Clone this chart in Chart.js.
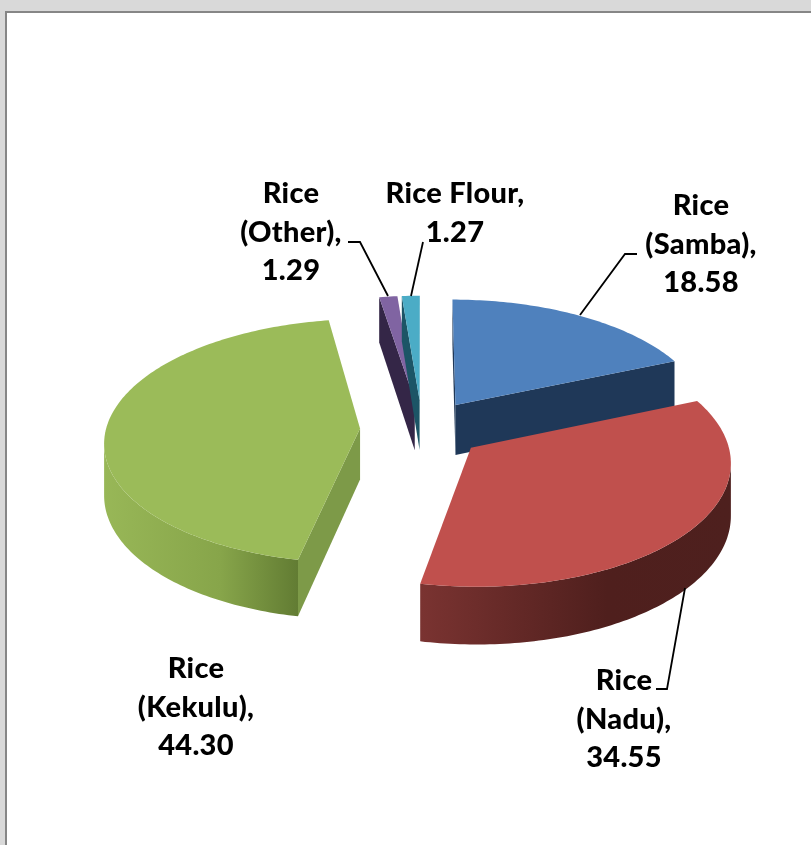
<!DOCTYPE html>
<html>
<head>
<meta charset="utf-8">
<script src="https://cdn.jsdelivr.net/npm/chart.js@4"></script>
<style>
html,body{margin:0;padding:0;background:#d9d9d9;width:811px;height:845px;overflow:hidden}
#sheet{position:absolute;left:5px;top:11px;width:806px;height:834px;background:#fff;border-left:2px solid #868686;border-top:2px solid #868686;box-sizing:border-box}
canvas{position:absolute;left:0;top:0}
</style>
</head>
<body>
<div id="sheet"></div>
<canvas id="c" width="811" height="845"></canvas>
<script>
const categories = ['Rice (Samba)', 'Rice (Nadu)', 'Rice (Kekulu)', 'Rice (Other)', 'Rice Flour'];
const values = [18.58, 34.55, 44.30, 1.29, 1.27];
const topColors = ['#4F81BD', '#C0504D', '#9BBB59', '#8064A2', '#4BACC6'];
const wallColors = ['#1F3858', '#4F1F1D', '#7D9A48', '#342647', '#1C5566'];
const rimLeft = ['#1F3858', '#7A3331', '#98B757', '#342647', '#1C5566'];
const rimMid = ['#1F3858', '#4F1F1D', '#87A54A', '#342647', '#1C5566'];
const rimRight = ['#1F3858', '#4E201E', '#627C33', '#342647', '#1C5566'];
const drawOrder = [3, 4, 0, 2, 1];
const labelLines = [['Rice', '(Samba),'], ['Rice', '(Nadu),'], ['Rice', '(Kekulu),'], ['Rice', '(Other),'], ['Rice Flour,']];
const labelAnchors = [[701, 206], [624, 681], [196, 669], [291, 194], [455, 194]];
const leaderPaths = [
  [[580, 315], [625, 254], [637, 254]],
  [[685, 588], [667, 689], [656, 689]],
  null,
  [[388, 296], [360, 242], [348, 242]],
  [[411, 296], [423, 242]]
];

const TILT = 0.475, PERSP = 0.0004, DEPTH = 51, EXPLODE = 62;
const LINE_H = 38.5;

function project(cx, cy, px, pv, z) {
  const s = 1 / (1 - pv * PERSP);
  return [cx + px * s, cy + pv * TILT * s + z * s];
}
function poly(ctx, pts, color) {
  ctx.beginPath();
  pts.forEach((p, i) => i ? ctx.lineTo(p[0], p[1]) : ctx.moveTo(p[0], p[1]));
  ctx.closePath();
  ctx.fillStyle = color;
  ctx.fill();
}
function signedArea(pts) {
  let a = 0;
  pts.forEach((p, i) => { const q = pts[(i + 1) % pts.length]; a += p[0] * q[1] - q[0] * p[1]; });
  return a;
}
function drawSlice(ctx, arc, i) {
  const { x, y, startAngle, endAngle, outerRadius } = arc.getProps(['x', 'y', 'startAngle', 'endAngle', 'outerRadius'], true);
  const mid = (startAngle + endAngle) / 2;
  const off = arc.options.offset;
  const ox = off * Math.cos(mid), ov = off * Math.sin(mid);
  const P = (a, r, z) => project(x, y, ox + r * Math.cos(a), ov + r * Math.sin(a), z);
  const n = Math.max(4, Math.ceil((endAngle - startAngle) / (Math.PI / 180)));
  const angles = [];
  for (let k = 0; k <= n; k++) angles.push(startAngle + (endAngle - startAngle) * k / n);

  const wall = a => [P(a, 0, 0), P(a, outerRadius, 0), P(a, outerRadius, DEPTH), P(a, 0, DEPTH)];
  const sw = wall(startAngle), ew = wall(endAngle);
  if (signedArea(sw) < 0) poly(ctx, sw, wallColors[i]);
  if (signedArea(ew) > 0) poly(ctx, ew, wallColors[i]);

  const upper = [], lower = [];
  for (let k = 0; k < n; k++) {
    const q = [P(angles[k], outerRadius, 0), P(angles[k + 1], outerRadius, 0), P(angles[k + 1], outerRadius, DEPTH), P(angles[k], outerRadius, DEPTH)];
    if (signedArea(q) < 0) {
      if (!upper.length) { upper.push(q[0]); lower.push(q[3]); }
      upper.push(q[1]); lower.push(q[2]);
    }
  }
  if (upper.length) {
    const rim = upper.concat(lower.reverse());
    const xs = rim.map(p => p[0]);
    const g = ctx.createLinearGradient(Math.min(...xs), 0, Math.max(...xs), 0);
    g.addColorStop(0, rimLeft[i]);
    g.addColorStop(0.6, rimMid[i]);
    g.addColorStop(1, rimRight[i]);
    poly(ctx, rim, g);
  }
  const top = [P(startAngle, 0, 0)].concat(angles.map(a => P(a, outerRadius, 0)));
  poly(ctx, top, arc.options.backgroundColor);
}

const pie3d = {
  id: 'pie3d',
  beforeDatasetDraw(chart, args) {
    const ctx = chart.ctx, arcs = chart.getDatasetMeta(args.index).data;
    ctx.save();
    drawOrder.forEach(i => drawSlice(ctx, arcs[i], i));
    ctx.restore();
    return false;
  },
  afterDraw(chart) {
    const ctx = chart.ctx;
    ctx.save();
    ctx.strokeStyle = '#000';
    ctx.lineWidth = 1.8;
    leaderPaths.forEach(path => {
      if (!path) return;
      ctx.beginPath();
      path.forEach((p, k) => k ? ctx.lineTo(p[0], p[1]) : ctx.moveTo(p[0], p[1]));
      ctx.stroke();
    });
    ctx.fillStyle = '#000';
    ctx.font = '900 29px Lato, "Noto Sans", sans-serif';
    ctx.letterSpacing = '0.3px';
    ctx.textAlign = 'center';
    ctx.textBaseline = 'middle';
    labelLines.forEach((lines, i) => {
      const all = lines.concat([values[i].toFixed(2)]);
      all.forEach((t, k) => ctx.fillText(t, labelAnchors[i][0], labelAnchors[i][1] + k * LINE_H));
    });
    ctx.restore();
  }
};

new Chart(document.getElementById('c'), {
  type: 'pie',
  data: {
    labels: categories,
    datasets: [{ data: values, backgroundColor: topColors, borderWidth: 0, offset: EXPLODE }]
  },
  options: {
    responsive: false,
    animation: false,
    layout: { padding: { left: 137, right: 104, top: 144, bottom: 131 } },
    plugins: { legend: { display: false }, tooltip: { enabled: false } }
  },
  plugins: [pie3d]
});
</script>
</body>
</html>
